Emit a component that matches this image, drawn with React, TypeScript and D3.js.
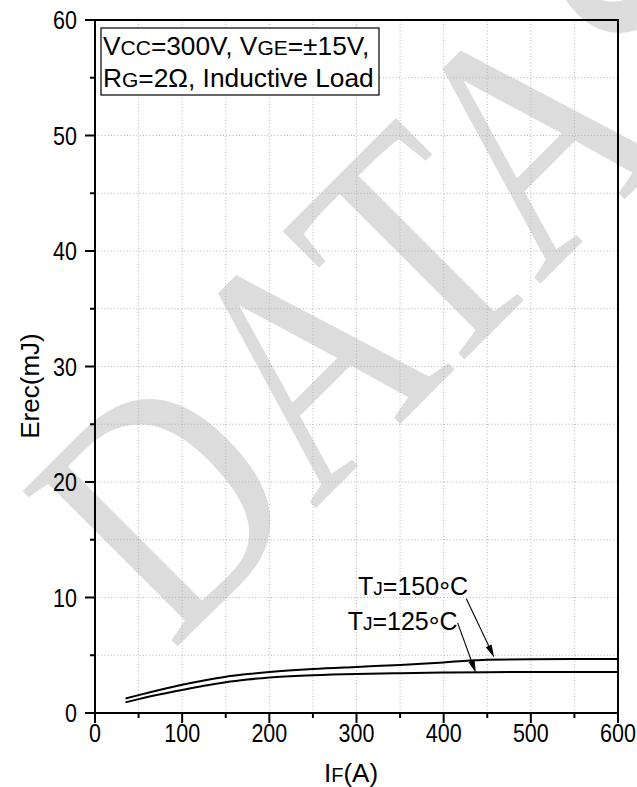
import React from "react";
import * as d3 from "d3";

// Reverse recovery energy vs forward current, two junction temperatures
const IF_150 = [35, 50, 75, 100, 125, 150, 175, 200, 250, 300, 350, 400, 430, 450, 500, 550, 600];
const E_150 = [1.25, 1.55, 2.02, 2.45, 2.82, 3.14, 3.37, 3.55, 3.81, 3.99, 4.16, 4.38, 4.54, 4.62, 4.65, 4.67, 4.68];
const IF_125 = [35, 50, 75, 100, 125, 150, 175, 200, 250, 300, 350, 400, 450, 500, 550, 600];
const E_125 = [0.92, 1.2, 1.62, 2.0, 2.36, 2.67, 2.9, 3.08, 3.27, 3.38, 3.44, 3.5, 3.53, 3.55, 3.56, 3.56];

const X_TICKS = [0, 100, 200, 300, 400, 500, 600];
const Y_TICKS = [0, 10, 20, 30, 40, 50, 60];

// annotation anchors: [label end IF, label baseline E, arrow start IF, arrow start E, tip IF, tip E]
const NOTE_150 = [428, 10.2, 426, 9.9, 458, 4.8];
const NOTE_125 = [416, 7.2, 416, 7.8, 437, 3.45];

const W = 637;
const H = 787;
const FONT = "'Liberation Sans', Arial, Helvetica, sans-serif";

export default function App() {
  const x = d3.scaleLinear().domain([0, 600]).range([95, 618]);
  const y = d3.scaleLinear().domain([0, 60]).range([713, 20]);

  const line = d3
    .line<[number, number]>()
    .x((d) => x(d[0]))
    .y((d) => y(d[1]))
    .curve(d3.curveMonotoneX);

  const s150 = IF_150.map((v, i) => [v, E_150[i]] as [number, number]);
  const s125 = IF_125.map((v, i) => [v, E_125[i]] as [number, number]);

  const xMinor = d3.range(50, 600, 100);
  const yMinor = d3.range(5, 60, 10);
  const xGrid = d3.range(50, 600, 50);
  const yGrid = d3.range(5, 60, 5);

  const arrow = (n: number[]) => {
    const x0 = x(n[2]);
    const y0 = y(n[3]);
    const x1 = x(n[4]);
    const y1 = y(n[5]);
    const ang = Math.atan2(y1 - y0, x1 - x0);
    const len = 13;
    const half = 3.2;
    const bx = x1 - len * Math.cos(ang);
    const by = y1 - len * Math.sin(ang);
    const px = -Math.sin(ang) * half;
    const py = Math.cos(ang) * half;
    return (
      <g>
        <line x1={x0} y1={y0} x2={bx} y2={by} stroke="#000" strokeWidth={1.1} />
        <path d={`M${x1},${y1}L${bx + px},${by + py}L${bx - px},${by - py}Z`} fill="#000" />
      </g>
    );
  };

  const tempLabel = (n: number[], t: string) => (
    <text x={x(n[0])} y={y(n[1])} fontSize={25} textAnchor="end" fill="#000">
      T<tspan fontSize={19}>J</tspan>={t}
      <tspan fontSize={27} dy={6}>°</tspan>
      <tspan dy={-6}>C</tspan>
    </text>
  );

  return (
    <svg
      width={W}
      height={H}
      viewBox={`0 0 ${W} ${H}`}
      style={{ position: "absolute", left: 0, top: 0, background: "#fff" }}
      fontFamily={FONT}
    >
      <rect x={0} y={0} width={W} height={H} fill="#fff" />

      {/* watermark */}
      <clipPath id="page">
        <rect x={0} y={0} width={W} height={H} />
      </clipPath>
      <g clipPath="url(#page)">
        <text
          transform="translate(172,652) rotate(-45) scale(0.83,1)"
          fontFamily="'Liberation Serif', 'Times New Roman', serif"
          fontSize={335}
          fill="#dcdcdc"
        >
          DATASHEET
        </text>
      </g>

      {/* grid */}
      <g stroke="#b4b4b4" strokeWidth={1} strokeDasharray="1 2.2">
        {xGrid.map((v) => (
          <line key={`gx${v}`} x1={x(v)} x2={x(v)} y1={y(0)} y2={y(60)} />
        ))}
        {yGrid.map((v) => (
          <line key={`gy${v}`} x1={x(0)} x2={x(600)} y1={y(v)} y2={y(v)} />
        ))}
      </g>

      {/* curves */}
      <path d={line(s150) || ""} fill="none" stroke="#000" strokeWidth={2} />
      <path d={line(s125) || ""} fill="none" stroke="#000" strokeWidth={2} />

      {/* frame */}
      <rect x={x(0)} y={y(60)} width={x(600) - x(0)} height={y(0) - y(60)} fill="none" stroke="#000" strokeWidth={2} />

      {/* ticks */}
      <g stroke="#000" strokeWidth={2}>
        {X_TICKS.map((v) => (
          <line key={`xt${v}`} x1={x(v)} x2={x(v)} y1={y(0)} y2={y(0) + 10} />
        ))}
        {xMinor.map((v) => (
          <line key={`xm${v}`} x1={x(v)} x2={x(v)} y1={y(0)} y2={y(0) + 5} />
        ))}
        {Y_TICKS.map((v) => (
          <line key={`yt${v}`} x1={x(0) - 10} x2={x(0)} y1={y(v)} y2={y(v)} />
        ))}
        {yMinor.map((v) => (
          <line key={`ym${v}`} x1={x(0) - 5} x2={x(0)} y1={y(v)} y2={y(v)} />
        ))}
      </g>

      {/* tick labels */}
      <g fontSize={25} fill="#000">
        {X_TICKS.map((v) => (
          <text
            key={`xl${v}`}
            transform={`translate(${x(v)},${y(0) + 29}) scale(0.86,1)`}
            textAnchor="middle"
          >
            {v}
          </text>
        ))}
        {Y_TICKS.map((v) => (
          <text
            key={`yl${v}`}
            transform={`translate(${x(0) - 18},${y(v) + 9}) scale(0.86,1)`}
            textAnchor="end"
          >
            {v}
          </text>
        ))}
      </g>

      {/* axis titles */}
      <text x={351} y={782} fontSize={26} textAnchor="middle" fill="#000">
        I<tspan fontSize={20}>F</tspan>(A)
      </text>
      <text transform="translate(39,386) rotate(-90)" fontSize={26} textAnchor="middle" fill="#000">
        Erec(mJ)
      </text>

      {/* conditions box */}
      <rect x={101} y={28} width={278} height={67} fill="#fff" stroke="#000" strokeWidth={1.2} />
      <text x={103} y={55} fontSize={26.3} fill="#000">
        V<tspan fontSize={21}>CC</tspan>=300V, V<tspan fontSize={21}>GE</tspan>=±15V,
      </text>
      <text x={103} y={87} fontSize={26.3} fill="#000">
        R<tspan fontSize={21}>G</tspan>=2Ω, Inductive Load
      </text>

      {/* temperature labels */}
      {tempLabel(NOTE_150, "150")}
      {tempLabel(NOTE_125, "125")}
      {arrow(NOTE_150)}
      {arrow(NOTE_125)}
    </svg>
  );
}
